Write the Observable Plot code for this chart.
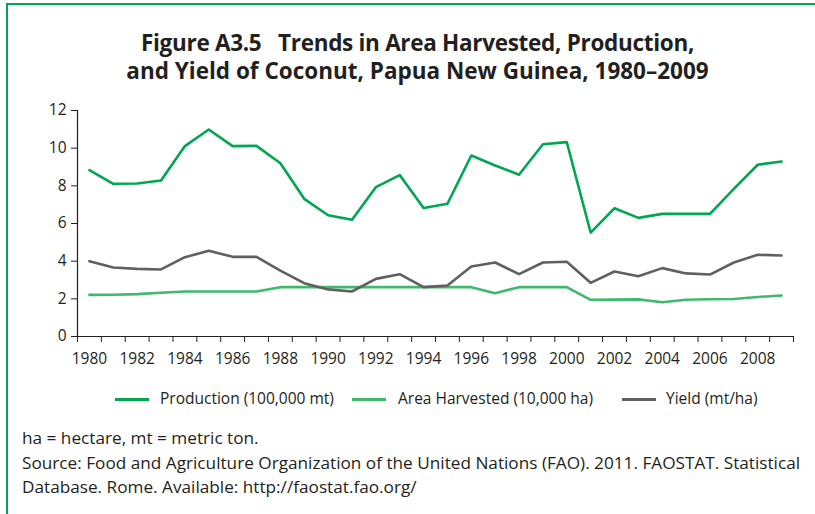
<!DOCTYPE html>
<html>
<head>
<meta charset="utf-8">
<script src="https://cdn.jsdelivr.net/npm/d3@7"></script>
<script src="https://cdn.jsdelivr.net/npm/@observablehq/plot@0.6"></script>
<style>
  html, body { margin: 0; padding: 0; background: #fff; }
  #wrap { position: relative; width: 815px; height: 514px; overflow: hidden; background: #fff; font-family: "Open Sans", sans-serif; color: #231f20; }
  #frame { position: absolute; left: 6px; top: 3px; right: -10px; bottom: -10px; border-top: 2px solid #00a651; border-left: 2px solid #00a651; }
  #title { position: absolute; left: 10px; width: 815px; top: 28.5px; text-align: center; font-weight: 700; font-size: 22.5px; line-height: 28.5px; }
  #title .l1 { letter-spacing: -0.3px; }
  #chart { position: absolute; left: 0; top: 95px; }
  .leg { position: absolute; top: 387px; font-size: 15.5px; line-height: 22px; white-space: nowrap; }
  .sw { position: absolute; top: 398px; height: 3px; }
  #notes { position: absolute; left: 22px; top: 426px; font-size: 17.2px; line-height: 24.5px; white-space: nowrap; }
</style>
</head>
<body>
<div id="wrap">
  <div id="frame"></div>
  <div id="title"><span class="l1">Figure A3.5&nbsp;&nbsp; Trends in Area Harvested, Production,</span><br><span class="l2">and Yield of Coconut, Papua New Guinea, 1980–2009</span></div>
  <div id="chart"></div>
  <div id="legend"></div>
  <div id="notes">ha = hectare, mt = metric ton.<br>Source: Food and Agriculture Organization of the United Nations (FAO). 2011. FAOSTAT. Statistical<br>Database. Rome. Available: http://faostat.fao.org/</div>
</div>
<script>
const years = d3.range(1980, 2010);
const production = [8.83, 8.11, 8.12, 8.28, 10.11, 10.99, 10.11, 10.12, 9.2, 7.31, 6.44, 6.2,
  7.93, 8.57, 6.82, 7.05, 9.61, 9.08, 8.59, 10.21, 10.32, 5.52, 6.81, 6.3, 6.51, 6.51, 6.51, 7.84, 9.12, 9.29];
const areaHarvested = [2.21, 2.22, 2.25, 2.32, 2.39, 2.39, 2.39, 2.39, 2.62, 2.62, 2.62, 2.62,
  2.62, 2.62, 2.62, 2.62, 2.62, 2.3, 2.62, 2.62, 2.62, 1.95, 1.96, 1.97, 1.82, 1.95, 1.98, 1.99, 2.1, 2.18];
const yieldVals = [4.0, 3.66, 3.59, 3.56, 4.21, 4.55, 4.23, 4.23, 3.5, 2.83, 2.5, 2.39,
  3.06, 3.31, 2.62, 2.71, 3.72, 3.93, 3.31, 3.93, 3.97, 2.85, 3.45, 3.2, 3.63, 3.35, 3.29, 3.93, 4.34, 4.3];
const seriesNames = ["Production (100,000 mt)", "Area Harvested (10,000 ha)", "Yield (mt/ha)"];
const seriesColors = ["#00a651", "#3dba6c", "#606060"];
const yTicks = [0, 2, 4, 6, 8, 10, 12];
const xTickLabels = d3.range(1980, 2010, 2);
const xBoundaries = d3.range(1979.5, 2010, 1);

const rows = (vals) => years.map((year, i) => ({year, value: vals[i]}));

const chart = Plot.plot({
  width: 815,
  height: 290,
  marginLeft: 77,
  marginRight: 22,
  marginTop: 15,
  marginBottom: 49,
  style: {fontFamily: "Open Sans", fontSize: "15.5px", color: "#231f20", background: "transparent"},
  x: {type: "linear", domain: [1979.5, 2009.5]},
  y: {domain: [0, 12]},
  marks: [
    Plot.axisY({ticks: yTicks, tickSize: 6, tickPadding: 5, label: null, tickFormat: d => String(d)}),
    Plot.axisX({ticks: xBoundaries, tickSize: 6, tickFormat: () => "", label: null}),
    Plot.axisX({ticks: xTickLabels, tickSize: 0, tickPadding: 16, label: null, tickFormat: d => String(d)}),
    Plot.ruleX([1979.5], {stroke: "#231f20", strokeWidth: 1.2}),
    Plot.ruleY([0], {stroke: "#231f20", strokeWidth: 1.2}),
    Plot.line(rows(areaHarvested), {x: "year", y: "value", stroke: seriesColors[1], strokeWidth: 2.6}),
    Plot.line(rows(yieldVals), {x: "year", y: "value", stroke: seriesColors[2], strokeWidth: 2.6}),
    Plot.line(rows(production), {x: "year", y: "value", stroke: seriesColors[0], strokeWidth: 2.6})
  ]
});
document.getElementById("chart").appendChild(chart);

// legend
const legend = document.getElementById("legend");
const swX = [115, 352, 622];
const txtX = [160, 398, 666];
seriesNames.forEach((name, i) => {
  const sw = document.createElement("div");
  sw.className = "sw";
  sw.style.left = swX[i] + "px";
  sw.style.width = "34px";
  sw.style.background = seriesColors[i];
  legend.appendChild(sw);
  const t = document.createElement("div");
  t.className = "leg";
  t.style.left = txtX[i] + "px";
  t.textContent = name;
  legend.appendChild(t);
});
</script>
</body>
</html>
